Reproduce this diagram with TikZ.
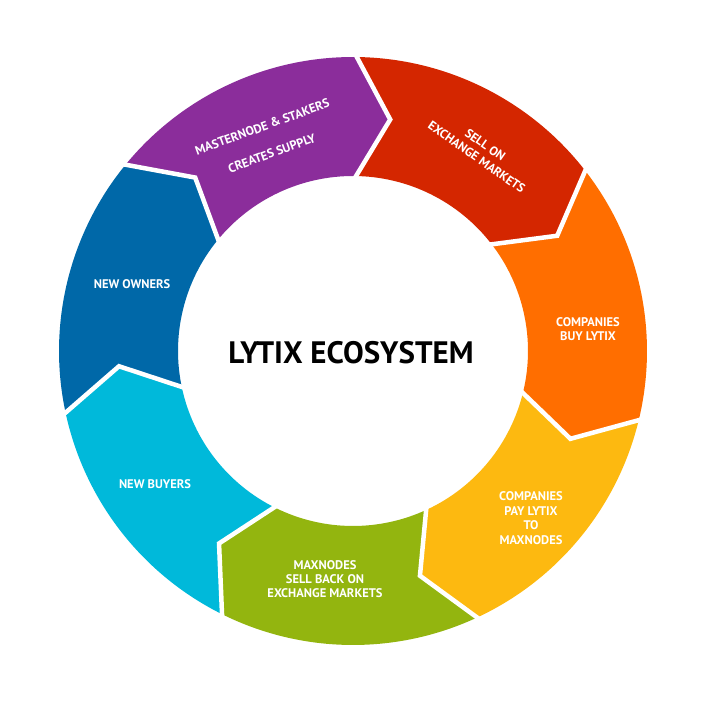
\documentclass[tikz,border=0pt]{standalone}
\usepackage{fontspec}
\setmainfont{PT Sans}
\usepackage{tikz}

\definecolor{segpurple}{RGB}{139,45,155}
\definecolor{segred}{RGB}{212,38,0}
\definecolor{segorange}{RGB}{255,110,0}
\definecolor{segyellow}{RGB}{253,185,16}
\definecolor{seggreen}{RGB}{147,181,15}
\definecolor{segcyan}{RGB}{0,185,218}
\definecolor{segblue}{RGB}{0,104,168}

% one arrow piece of the ring, from angle #1 clockwise
\newcommand{\ringseg}[2]{%
  \fill[#2] (#1:294) arc[start angle=#1, end angle=#1-51.43, radius=294]
    -- (#1-60.13:234.5) -- (#1-51.43:175)
    arc[start angle=#1-51.43, end angle=#1, radius=175]
    -- (#1-8.7:234.5) -- cycle;}
\newcommand{\ringgap}[1]{%
  \draw[gapline] (#1:297) -- (#1-8.7:234.5) -- (#1:172);}

\begin{document}
\begin{tikzpicture}[x=1pt,y=1pt,
  gapline/.style={white,line width=4.5pt,line join=miter},
  seglabel/.style={text=white,font=\bfseries\fontsize{12.5}{14}\selectfont,align=center}]
\useasboundingbox (0,0) rectangle (705,705);

\begin{scope}[shift={(353,354)}]
  \ringseg{141}{segpurple}
  \ringseg{89.57}{segred}
  \ringseg{38.14}{segorange}
  \ringseg{-13.29}{segyellow}
  \ringseg{-64.71}{seggreen}
  \ringseg{-116.14}{segcyan}
  \ringseg{-167.57}{segblue}

  \ringgap{141}
  \ringgap{89.57}
  \ringgap{38.14}
  \ringgap{-13.29}
  \ringgap{-64.71}
  \ringgap{-116.14}
  \ringgap{-167.57}
\end{scope}

\node (title) at (351,352) {\bfseries\fontsize{31}{34}\selectfont LYTIX ECOSYSTEM};

\node[seglabel,font=\bfseries\fontsize{12.5}{28}\selectfont,rotate=20] (supply) at (267,565)
  {MASTERNODE \& STAKERS\\CREATES SUPPLY};
\node[seglabel,font=\bfseries\fontsize{12.5}{15}\selectfont,rotate=-35] (sell) at (481,554)
  {SELL ON\\EXCHANGE MARKETS};
\node[seglabel] (buy) at (588,376) {COMPANIES\\BUY LYTIX};
\node[seglabel,font=\bfseries\fontsize{12.5}{14.5}\selectfont] (pay) at (531,187)
  {COMPANIES\\PAY LYTIX\\TO\\MAXNODES};
\node[seglabel] (sellback) at (325,126)
  {MAXNODES\\SELL BACK ON\\EXCHANGE MARKETS};
\node[seglabel] (buyers) at (155,221) {NEW BUYERS};
\node[seglabel] (owners) at (132,421) {NEW OWNERS};

\end{tikzpicture}
\end{document}
